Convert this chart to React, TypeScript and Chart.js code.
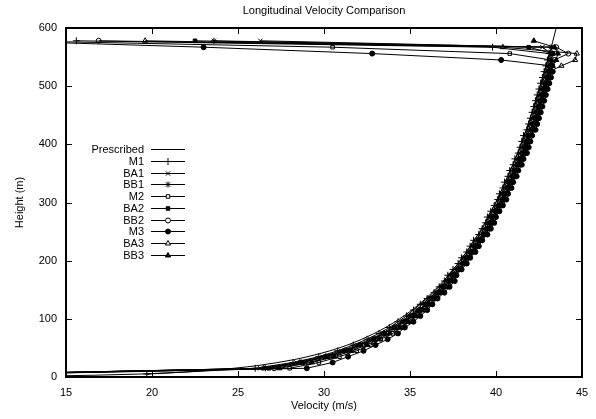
import React, { useEffect, useRef } from 'react';
import { Chart, registerables } from 'chart.js';
import { drawPoint } from 'chart.js/helpers';

Chart.register(...registerables);

const FONT = "'Liberation Sans', Arial, sans-serif";

const title = 'Longitudinal Velocity Comparison';
const xTitle = 'Velocity (m/s)';
const yTitle = 'Height (m)';

// Heights (m) of the model profiles
const heights = [5, 15, 25, 35, 45, 55, 65, 75, 85, 95, 105, 115, 125, 135, 145, 155, 165, 175, 185, 195, 205, 215, 225, 235, 245, 255, 265, 275, 285, 295, 305, 315, 325, 335, 345, 355, 365, 375, 385, 395, 405, 415, 425, 435, 445, 455, 465, 475, 485, 495, 505, 515, 525, 535, 545, 556, 567, 578];

// Prescribed profile
const presHeights = [1, 2, 3, 5, 7, 10, 15, 20, 30, 40, 50, 60, 80, 100, 125, 150, 175, 200, 250, 300, 350, 400, 450, 500, 550, 600, 650];
const presVel = [11.0, 14.52, 16.58, 19.18, 20.89, 22.70, 24.76, 26.22, 28.28, 29.74, 30.88, 31.80, 33.26, 34.40, 35.53, 36.46, 37.24, 37.92, 39.05, 39.98, 40.76, 41.44, 42.04, 42.57, 43.06, 43.50, 43.91];

const m1 = [19.7, 26.0, 28.2, 29.7, 30.8, 31.7, 32.5, 33.2, 33.8, 34.3, 34.8, 35.2, 35.6, 36.0, 36.4, 36.7, 37.0,
  37.2, 37.5, 37.8, 38.0, 38.3, 38.5, 38.7, 39.0, 39.2, 39.4, 39.5, 39.7, 39.9, 40.1, 40.2, 40.4, 40.5, 40.7, 40.8, 41.0, 41.1, 41.3, 41.4, 41.5, 41.6, 41.8, 41.9, 42.0, 42.1, 42.2, 42.3, 42.4, 42.5, 42.6, 42.7, 42.8, 42.9,
  43.0, 43.1, 39.8, 15.6];
const ba1 = [10.5, 26.3, 28.4, 29.9, 31.0, 31.9, 32.7, 33.4, 33.9, 34.5, 34.9, 35.4, 35.7, 36.1, 36.5, 36.8, 37.1,
  37.3, 37.6, 37.9, 38.1, 38.4, 38.6, 38.8, 39.1, 39.3, 39.5, 39.6, 39.8, 40.0, 40.2, 40.3, 40.5, 40.6, 40.8, 40.9, 41.1, 41.2, 41.4, 41.5, 41.6, 41.7, 41.9, 42.0, 42.1, 42.2, 42.3, 42.4, 42.5, 42.6, 42.7, 42.8, 42.9, 43.0,
  43.1, 43.2, 42.7, 26.3];
const bb1 = [9.8, 26.6, 28.7, 30.1, 31.2, 32.1, 32.8, 33.5, 34.1, 34.6, 35.0, 35.5, 35.9, 36.2, 36.6, 36.9, 37.2,
  37.4, 37.7, 38.0, 38.2, 38.5, 38.7, 38.9, 39.2, 39.4, 39.6, 39.7, 39.9, 40.1, 40.3, 40.4, 40.6, 40.7, 40.9, 41.0, 41.2, 41.3, 41.5, 41.6, 41.7, 41.8, 42.0, 42.1, 42.2, 42.3, 42.4, 42.5, 42.6, 42.7, 42.8, 42.9, 43.0, 43.1,
  43.2, 43.3, 43.2, 23.6];
const m2 = [11.0, 28.0, 29.7, 30.9, 31.9, 32.7, 33.3, 34.0, 34.5, 35.0, 35.4, 35.8, 36.2, 36.5, 36.8, 37.1, 37.4,
  37.6, 37.9, 38.2, 38.4, 38.7, 38.9, 39.1, 39.4, 39.6, 39.8, 39.9, 40.1, 40.3, 40.5, 40.6, 40.8, 40.9, 41.1, 41.2, 41.4, 41.5, 41.7, 41.8, 41.9, 42.0, 42.2, 42.3, 42.4, 42.5, 42.6, 42.7, 42.8, 42.9, 43.0, 43.1, 43.2, 43.3,
  43.2, 40.8, 30.5, 12.0];
const ba2 = [10.2, 26.8, 28.8, 30.2, 31.3, 32.1, 32.9, 33.5, 34.1, 34.6, 35.1, 35.5, 35.9, 36.2, 36.6, 36.9, 37.2,
  37.5, 37.8, 38.1, 38.3, 38.6, 38.8, 39.0, 39.3, 39.5, 39.7, 39.8, 40.0, 40.2, 40.4, 40.5, 40.7, 40.8, 41.0, 41.1, 41.3, 41.4, 41.6, 41.7, 41.8, 41.9, 42.1, 42.2, 42.3, 42.4, 42.5, 42.6, 42.7, 42.8, 42.9, 43.0, 43.1, 43.2,
  43.2, 43.3, 41.9, 22.5];
const bb2 = [10.8, 27.1, 29.1, 30.4, 31.4, 32.3, 33.0, 33.7, 34.2, 34.7, 35.2, 35.6, 36.0, 36.3, 36.7, 37.0, 37.3,
  37.5, 37.8, 38.1, 38.3, 38.6, 38.8, 39.0, 39.3, 39.5, 39.7, 39.8, 40.0, 40.2, 40.4, 40.5, 40.7, 40.8, 41.0, 41.1, 41.3, 41.4, 41.6, 41.7, 41.8, 41.9, 42.1, 42.2, 42.3, 42.4, 42.5, 42.6, 42.7, 42.8, 42.9, 43.0, 43.1, 43.2,
  43.4, 44.2, 43.5, 16.9];
const m3 = [11.5, 29.0, 30.5, 31.4, 32.3, 33.0, 33.7, 34.3, 34.7, 35.2, 35.6, 36.0, 36.3, 36.6, 37.0, 37.3, 37.6,
  37.7, 38.0, 38.3, 38.5, 38.8, 39.0, 39.2, 39.5, 39.7, 39.9, 40.0, 40.2, 40.4, 40.6, 40.7, 40.9, 41.0, 41.2, 41.3, 41.5, 41.6, 41.8, 41.9, 42.0, 42.1, 42.3, 42.4, 42.5, 42.6, 42.7, 42.8, 42.9, 43.0, 43.1, 43.2, 43.3, 43.2,
  40.3, 32.8, 23.0, 11.0];
const ba3 = [10.0, 26.5, 28.6, 30.1, 31.2, 32.1, 32.9, 33.5, 34.1, 34.7, 35.1, 35.6, 35.9, 36.3, 36.7, 37.0, 37.3,
  37.5, 37.8, 38.1, 38.3, 38.6, 38.8, 39.0, 39.3, 39.5, 39.7, 39.8, 40.0, 40.2, 40.4, 40.5, 40.7, 40.8, 41.0, 41.1, 41.3, 41.4, 41.6, 41.7, 41.8, 41.9, 42.1, 42.2, 42.3, 42.4, 42.5, 42.6, 42.7, 42.8, 42.9, 43.0, 43.1, 43.8,
  44.6, 44.7, 40.4, 19.6];
const bb3 = [10.4, 27.4, 29.3, 30.6, 31.6, 32.5, 33.2, 33.8, 34.4, 34.9, 35.3, 35.7, 36.1, 36.5, 36.8, 37.1, 37.4,
  37.6, 37.9, 38.2, 38.4, 38.7, 38.9, 39.1, 39.4, 39.6, 39.8, 39.9, 40.1, 40.3, 40.5, 40.6, 40.8, 40.9, 41.1, 41.2, 41.4, 41.5, 41.7, 41.8, 41.9, 42.0, 42.2, 42.3, 42.4, 42.5, 42.6, 42.7, 42.8, 42.9, 43.0, 43.1, 43.2, 43.3,
  43.5, 43.6, 43.4, 42.2];

const xTicksStep = 5;
const yTicksStep = 100;

function series(label: string, vel: number[], style: any, filled: boolean, radius: number) {
  return {
    label,
    data: heights.map((h, i) => ({ x: vel[i], y: h })),
    borderColor: '#000',
    borderWidth: 1,
    pointStyle: style,
    pointRadius: radius,
    pointBorderColor: '#000',
    pointBackgroundColor: filled ? '#000' : 'rgba(0,0,0,0)',
    pointBorderWidth: 1,
    fill: false,
    tension: 0,
  };
}

const framePlugin = {
  id: 'gpFrame',
  afterDraw(chart: any) {
    const { ctx, chartArea: a, scales } = chart;
    ctx.save();
    ctx.strokeStyle = '#000';
    ctx.lineWidth = 1;
    const TL = 6;
    ctx.beginPath();
    scales.x.ticks.forEach((t: any) => {
      const px = Math.round(scales.x.getPixelForValue(t.value)) + 0.5;
      ctx.moveTo(px, a.bottom);
      ctx.lineTo(px, a.bottom - TL);
      ctx.moveTo(px, a.top);
      ctx.lineTo(px, a.top + TL);
    });
    scales.y.ticks.forEach((t: any) => {
      const py = Math.round(scales.y.getPixelForValue(t.value)) + 0.5;
      ctx.moveTo(a.left, py);
      ctx.lineTo(a.left + TL, py);
      ctx.moveTo(a.right, py);
      ctx.lineTo(a.right - TL, py);
    });
    ctx.stroke();
    ctx.lineWidth = 2;
    ctx.strokeRect(a.left, a.top, a.right - a.left, a.bottom - a.top);

    // gnuplot-style key
    const ds = chart.data.datasets;
    ctx.font = `11px ${FONT}`;
    ctx.textAlign = 'right';
    ctx.textBaseline = 'middle';
    ds.forEach((d: any, i: number) => {
      const y = Math.round(a.top + 121 + i * 11.78) + 0.5;
      ctx.fillStyle = '#000';
      ctx.fillText(d.label, a.left + 78, y);
      ctx.lineWidth = 1;
      ctx.beginPath();
      ctx.moveTo(a.left + 85, y);
      ctx.lineTo(a.left + 119, y);
      ctx.stroke();
      if (d.pointRadius > 0) {
        ctx.fillStyle = d.pointBackgroundColor === '#000' ? '#000' : '#fff';
        ctx.strokeStyle = '#000';
        drawPoint(ctx, { pointStyle: d.pointStyle, radius: d.pointRadius, borderWidth: 1, rotation: 0 } as any, a.left + 102, y);
      }
    });
    ctx.restore();
  },
};

export default function App() {
  const ref = useRef<HTMLCanvasElement>(null);
  useEffect(() => {
    document.body.style.margin = '0';
    Chart.defaults.color = '#000';
    Chart.defaults.font.family = FONT;
    const font = { family: FONT, size: 11, weight: 'normal' as any };
    const datasets: any[] = [
      {
        label: 'Prescribed',
        data: presHeights.map((h, i) => ({ x: presVel[i], y: h })),
        borderColor: '#000',
        borderWidth: 1,
        pointRadius: 0,
        fill: false,
        cubicInterpolationMode: 'monotone',
      },
      series('M1', m1, 'cross', false, 3.5),
      series('BA1', ba1, 'crossRot', false, 3),
      series('BB1', bb1, 'star', false, 3),
      series('M2', m2, 'rect', false, 2.5),
      series('BA2', ba2, 'rect', true, 2.5),
      series('BB2', bb2, 'circle', false, 2.5),
      series('M3', m3, 'circle', true, 2.5),
      series('BA3', ba3, 'triangle', false, 3),
      series('BB3', bb3, 'triangle', true, 3),
    ];
    const chart = new Chart(ref.current as HTMLCanvasElement, {
      type: 'line',
      data: { datasets },
      options: {
        animation: false,
        responsive: false,
        layout: { padding: { left: 0, right: 14, top: 0, bottom: 0 } },
        plugins: {
          legend: { display: false },
          tooltip: { enabled: false },
          title: {
            display: true,
            text: title,
            fullSize: false,
            color: '#000',
            font,
            padding: { top: 4, bottom: 10.8 },
          },
        },
        scales: {
          x: {
            type: 'linear',
            min: 15,
            max: 45,
            grid: { display: false },
            border: { display: false },
            ticks: { stepSize: xTicksStep, color: '#000', font, padding: 1, maxRotation: 0 },
            title: { display: true, text: xTitle, color: '#000', font, padding: { top: 0, bottom: 6 } },
            afterFit: (s: any) => { s.height = 42; },
          },
          y: {
            type: 'linear',
            min: 0,
            max: 600,
            grid: { display: false },
            border: { display: false },
            ticks: { stepSize: yTicksStep, color: '#000', font, padding: 1 },
            title: { display: true, text: yTitle, color: '#000', font, padding: { top: 13, bottom: 0 } },
            afterFit: (s: any) => { s.width = 66; },
          },
        },
      } as any,
      plugins: [framePlugin],
    });
    return () => chart.destroy();
  }, []);
  return (
    <div style={{ width: 596, height: 419 }}>
      <canvas ref={ref} width={596} height={419} style={{ display: 'block' }} />
    </div>
  );
}
